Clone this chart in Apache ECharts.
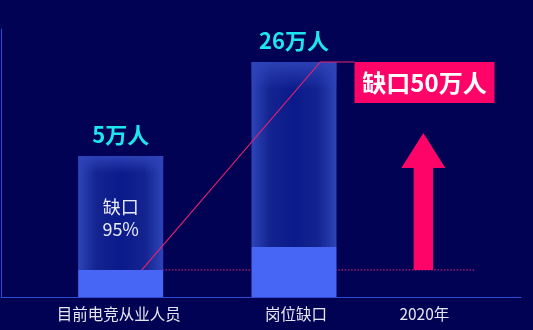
<!DOCTYPE html>
<html><head><meta charset="utf-8">
<script src="https://cdn.jsdelivr.net/npm/echarts@6/dist/echarts.min.js"></script>
<style>html,body{margin:0;padding:0;background:#020254;}#c{width:533px;height:330px;}</style>
</head><body><div id="c"></div>
<script>
// ---- data (chart units) ----
const categories = ['目前电竞从业人员', '岗位缺口', '2020年'];
const barTotals = [52.6, 87.7];   // full bar heights
const barBase = [10.1, 18.7];     // lighter base segment heights
const barLabels = ['5万人', '26万人'];
const innerLabel = ['缺口', '95%'];
const gapLabel = '缺口50万人';
const arrowTop = 61.2;

// ---- styles ----
const FONT = '"Noto Sans CJK SC", "Noto Sans", sans-serif';
const BAR_W = 85;
const markShift = [33, 33, -11];
const labelShift = [31, 35, -10];
const PINK = '#ff0468';
const AXIS = '#2f4bd0';

const chart = echarts.init(document.getElementById('c'), null, {renderer: 'canvas'});

const barData = barTotals.map((t, i) => [i, t, barBase[i]]);

function renderBar(params, api) {
  const i = api.value(0);
  const top = api.coord([i, api.value(1)]);
  const mid = api.coord([i, api.value(2)]);
  const bot = api.coord([i, 0]);
  const cx = top[0] + markShift[i];
  const x = cx - BAR_W / 2;
  const children = [
    {type: 'rect', shape: {x: x, y: top[1], width: BAR_W, height: mid[1] - top[1]},
      style: {fill: new echarts.graphic.LinearGradient(0, 0, 1, 0, [
        {offset: 0, color: '#2e44b9'}, {offset: 0.22, color: '#13238f'},
        {offset: 0.5, color: '#0b1a8a'}, {offset: 0.78, color: '#13238f'},
        {offset: 1, color: '#2e44b9'}])}},
    {type: 'rect', shape: {x: x, y: top[1], width: BAR_W, height: mid[1] - top[1]},
      style: {fill: new echarts.graphic.LinearGradient(0, 0, 0, 1, [
        {offset: 0, color: 'rgba(46,68,185,0.9)'}, {offset: 0.15, color: 'rgba(46,68,185,0)'},
        {offset: 1, color: 'rgba(46,68,185,0)'}])}},
    {type: 'rect', shape: {x: x, y: mid[1], width: BAR_W, height: bot[1] - mid[1]},
      style: {fill: '#4766f6'}},
    {type: 'text', style: {text: barLabels[i], x: cx, y: top[1] - 21, align: 'center',
      verticalAlign: 'middle', fill: '#1ee6ef', fontSize: 22, fontWeight: 'bold', fontFamily: FONT}}
  ];
  if (i === 0) {
    children.push({type: 'text', style: {text: innerLabel.join('\n'), x: cx,
      y: (top[1] + mid[1]) / 2 + 5, align: 'center', verticalAlign: 'middle',
      fill: '#e8eaf6', fontSize: 18, lineHeight: 22, fontFamily: FONT}});
  }
  return {type: 'group', children: children};
}

function renderDotted(params, api) {
  const p1 = api.coord([0, barBase[0]]);
  const a = api.coord([2, barBase[0]]);
  return {type: 'line', shape: {x1: p1[0] + markShift[0], y1: p1[1], x2: a[0] + markShift[2] + 52, y2: a[1]},
    style: {stroke: '#f02878', lineWidth: 1, lineDash: [1.5, 1.7]}};
}

function renderGap(params, api) {
  const p1 = api.coord([0, barBase[0]]);
  const p2 = api.coord([1, barTotals[1]]);
  const a0 = api.coord([2, barBase[0]]);
  const a1 = api.coord([2, arrowTop]);
  const sx = p1[0] + markShift[0] + BAR_W * 0.25;
  const ex = p2[0] + markShift[1] + BAR_W * 0.31;
  const bx = p2[0] + markShift[1] + BAR_W / 2 + 18;
  const ax = a0[0] + markShift[2];
  const headH = 35, headW = 22, shaftW = 9.7;
  return {type: 'group', children: [
    {type: 'polyline', shape: {points: [[sx, p1[1]], [ex, p2[1]], [bx, p2[1]]]},
      style: {stroke: '#ec2070', lineWidth: 1.1, fill: null}},
    {type: 'rect', shape: {x: bx, y: p2[1], width: 140, height: 41}, style: {fill: PINK}},
    {type: 'text', style: {text: gapLabel, x: bx + 70, y: p2[1] + 21, align: 'center',
      verticalAlign: 'middle', fill: '#ffffff', fontSize: 24, fontWeight: 'bold', fontFamily: FONT}},
    {type: 'polygon', shape: {points: [
      [ax, a1[1]], [ax + headW, a1[1] + headH], [ax + shaftW, a1[1] + headH],
      [ax + shaftW, a0[1]], [ax - shaftW, a0[1]], [ax - shaftW, a1[1] + headH],
      [ax - headW, a1[1] + headH]]}, style: {fill: PINK}}
  ]};
}

const rich = {};
labelShift.forEach((s, i) => {
  rich['s' + i] = {color: '#e6e6f0', fontSize: 15.5, fontFamily: FONT,
    padding: s >= 0 ? [0, 0, 0, 2 * s] : [0, -2 * s, 0, 0]};
});

chart.setOption({
  backgroundColor: '#020254',
  animation: false,
  grid: {left: 1, right: 12, top: 29, bottom: 33},
  xAxis: {
    type: 'category', data: categories,
    axisLine: {lineStyle: {color: AXIS, width: 1}},
    axisTick: {show: false},
    axisLabel: {margin: 9, formatter: (v, i) => '{s' + i + '|' + v + '}', rich: rich}
  },
  yAxis: {
    type: 'value', min: 0, max: 100,
    axisLine: {show: true, lineStyle: {color: AXIS, width: 1}},
    axisTick: {show: false}, axisLabel: {show: false}, splitLine: {show: false}
  },
  series: [
    {type: 'custom', name: 'dotted', z: 1, data: [[0, 0]], renderItem: renderDotted, silent: true},
    {type: 'custom', name: 'bars', z: 2, data: barData, renderItem: renderBar},
    {type: 'custom', name: 'gap', z: 3, data: [[0, 0]], renderItem: renderGap, silent: true}
  ]
});
</script></body></html>
